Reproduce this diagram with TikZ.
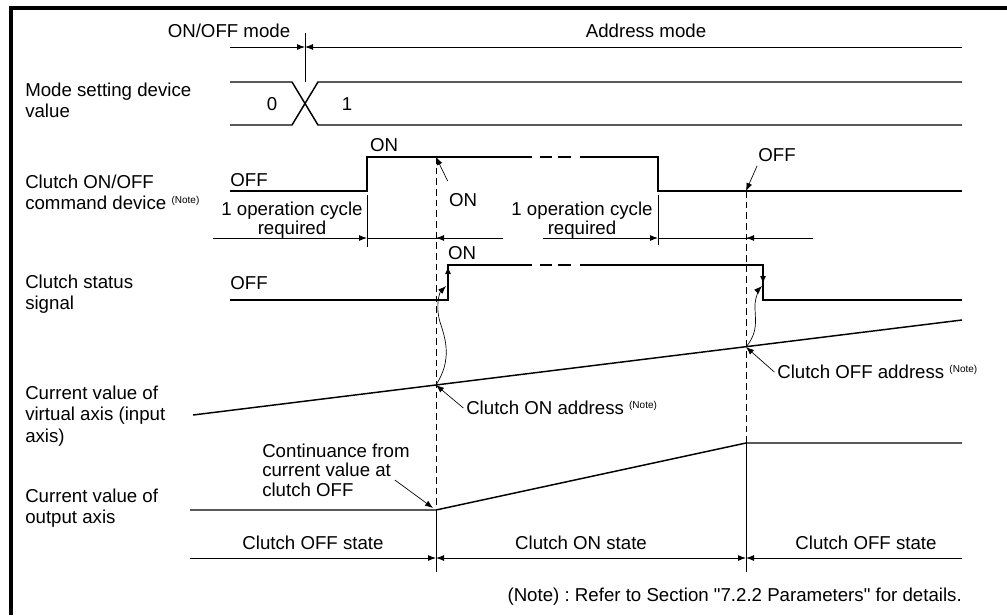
\documentclass[tikz,border=0pt]{standalone}
\usepackage{fontspec}
\setmainfont{Liberation Sans}[Ligatures=TeXOff]
\usetikzlibrary{arrows.meta,calc,positioning}
\newcommand{\notemark}{\ {\fontsize{7.5}{7.5}\selectfont\raisebox{4.5pt}{(Note)}}}
\frenchspacing

\begin{document}
\begin{tikzpicture}[x=0.75pt,y=-0.75pt,
  lbl/.style={font=\fontsize{14}{16}\selectfont,inner sep=0pt,align=left},
  txt/.style={font=\fontsize{14}{16}\selectfont,inner sep=0pt},
  cyc/.style={font=\fontsize{14}{11.5}\selectfont,inner sep=0pt,align=center},
  lvl/.style={line width=1.1pt},
  dim/.style={line width=0.7pt},
  guide/.style={line width=0.7pt,dash pattern=on 5pt off 3pt},
  tip/.style={-{Latex[length=6pt,width=4.5pt]}},
  callout/.style={line width=0.5pt,-{Latex[length=6pt,width=4.5pt]}}
]
\useasboundingbox (0,0) rectangle (1007,615);
\draw[line width=3pt] (11,615) -- (11,8) -- (1007,8);
\node[lbl,anchor=west] (lmode) at (25,100) {Mode setting device\\value};
\node[lbl,anchor=west] (lcmd) at (25,192) {Clutch ON/OFF\\command device\notemark};
\node[lbl,anchor=west] (lsts) at (25,294) {Clutch status\\signal};
\node[lbl,anchor=west] (lvir) at (25,416) {Current value of\\virtual axis (input\\axis)};
\node[lbl,anchor=west] (lout) at (25,508) {Current value of\\output axis};
% mode
\node[txt] (onoff) at (229,31) {ON/OFF mode};
\node[txt] (addr) at (646,31) {Address mode};
\coordinate (mchg) at (305,47);
\draw[tip,dim] (230,47) -- (mchg); \draw[tip,dim] (962,47) -- (mchg);
\draw[dim] (305,33) -- (305,82);
\draw[lvl] (230,82) -- (292,82) -- (318,125) -- (962,125);
\draw[lvl] (230,125) -- (292,125) -- (318,82) -- (962,82);
\node[txt] (v0) at (272,104) {0};
\node[txt] (v1) at (347,104) {1};
% command
\coordinate (con) at (436,157); \coordinate (coff) at (746,191);
\draw[lvl] (230,191) -- (367,191) -- (367,157) -- (532,157);
\draw[lvl] (540,157) -- (552,157) (558,157) -- (571,157);
\draw[lvl] (580,157) -- (658,157) -- (658,191) -- (962,191);
\node[txt] (cmdoff) at (249,180) {OFF};
\node[txt] (cmdon) at (384,145) {ON};
\node[txt] (cmdonc) at (463,200) {ON};
\node[txt] (cmdoffc) at (777,155) {OFF};
\draw[callout] ($(cmdonc.north west)+(-1,-12)$) -- (con);
\draw[callout] ($(cmdoffc.south west)+(-1,4)$) -- (coff);
\draw[guide] (con) -- (436,510); \draw[dim] (436,510) -- (436,572);
\draw[guide] (coff) -- (746,443); \draw[dim] (746,443) -- (746,572);
\node[cyc] (cyc1) at (292,220) {1 operation cycle\\required};
\node[cyc] (cyc2) at (582,220) {1 operation cycle\\required};
\draw[dim] (367,195) -- (367,247); \draw[dim] (658,195) -- (658,245);
\draw[tip,dim] (213,238) -- (367,238); \draw[dim] (367,238) -- (503,238); \draw[tip,dim] (503,238) -- (436,238);
\draw[tip,dim] (543,238) -- (658,238); \draw[dim] (658,238) -- (813,238); \draw[tip,dim] (813,238) -- (746,238);
% status
\draw[lvl] (230,300) -- (448,300) -- (448,265) -- (532,265);
\draw[lvl] (540,265) -- (552,265) (558,265) -- (571,265);
\draw[lvl] (580,265) -- (763,265) -- (763,300) -- (962,300);
\node[txt] (stoff) at (249,283) {OFF};
\node[txt] (ston) at (462,253) {ON};
\draw[tip,lvl] (448,284) -- (448,266); \draw[tip,lvl] (763,268) -- (763,284);
% virtual axis
\coordinate (von) at (436,385); \coordinate (voff) at (746,347);
\draw[lvl] (193,415) -- (962,320);
\draw[callout] (von) .. controls (452,360) and (446,340) .. (440,322) .. controls (435,305) and (440,292) .. (446,286);
\draw[callout] (voff) .. controls (762,328) and (752,312) .. (756,298) .. controls (758,291) and (760,288) .. (762,286);
\node[txt,anchor=west] (onaddr) at (466,408) {Clutch ON address\notemark};
\node[txt,anchor=west] (offaddr) at (777,372) {Clutch OFF address\notemark};
\draw[callout] ([xshift=-2pt]onaddr.west) -- (von);
\draw[callout] ([xshift=-2pt]offaddr.west) -- (voff);
% output axis
\coordinate (oon) at (436,510); \coordinate (ooff) at (746,443);
\draw[lvl] (190,510) -- (oon) -- (ooff) -- (962,443);
\node[lbl,anchor=west,font=\fontsize{14}{14.5}\selectfont] (cont) at (262,470) {Continuance from\\current value at\\clutch OFF};
\draw[callout] ($(cont.east)+(-15,10)$) -- ($(oon)+(-3,-2)$);
% states
\draw[tip,dim] (190,558) -- (436,558); \draw[tip,dim] (591,558) -- (436,558);
\draw[tip,dim] (591,558) -- (746,558); \draw[tip,dim] (962,558) -- (746,558);
\node[txt] (soff1) at (313,543) {Clutch OFF state};
\node[txt] (son) at (581,543) {Clutch ON state};
\node[txt] (soff2) at (866,543) {Clutch OFF state};
\node[txt,anchor=east] (note) at (962,597) {(Note) : Refer to Section "7.2.2 Parameters" for details.};
\end{tikzpicture}
\end{document}
